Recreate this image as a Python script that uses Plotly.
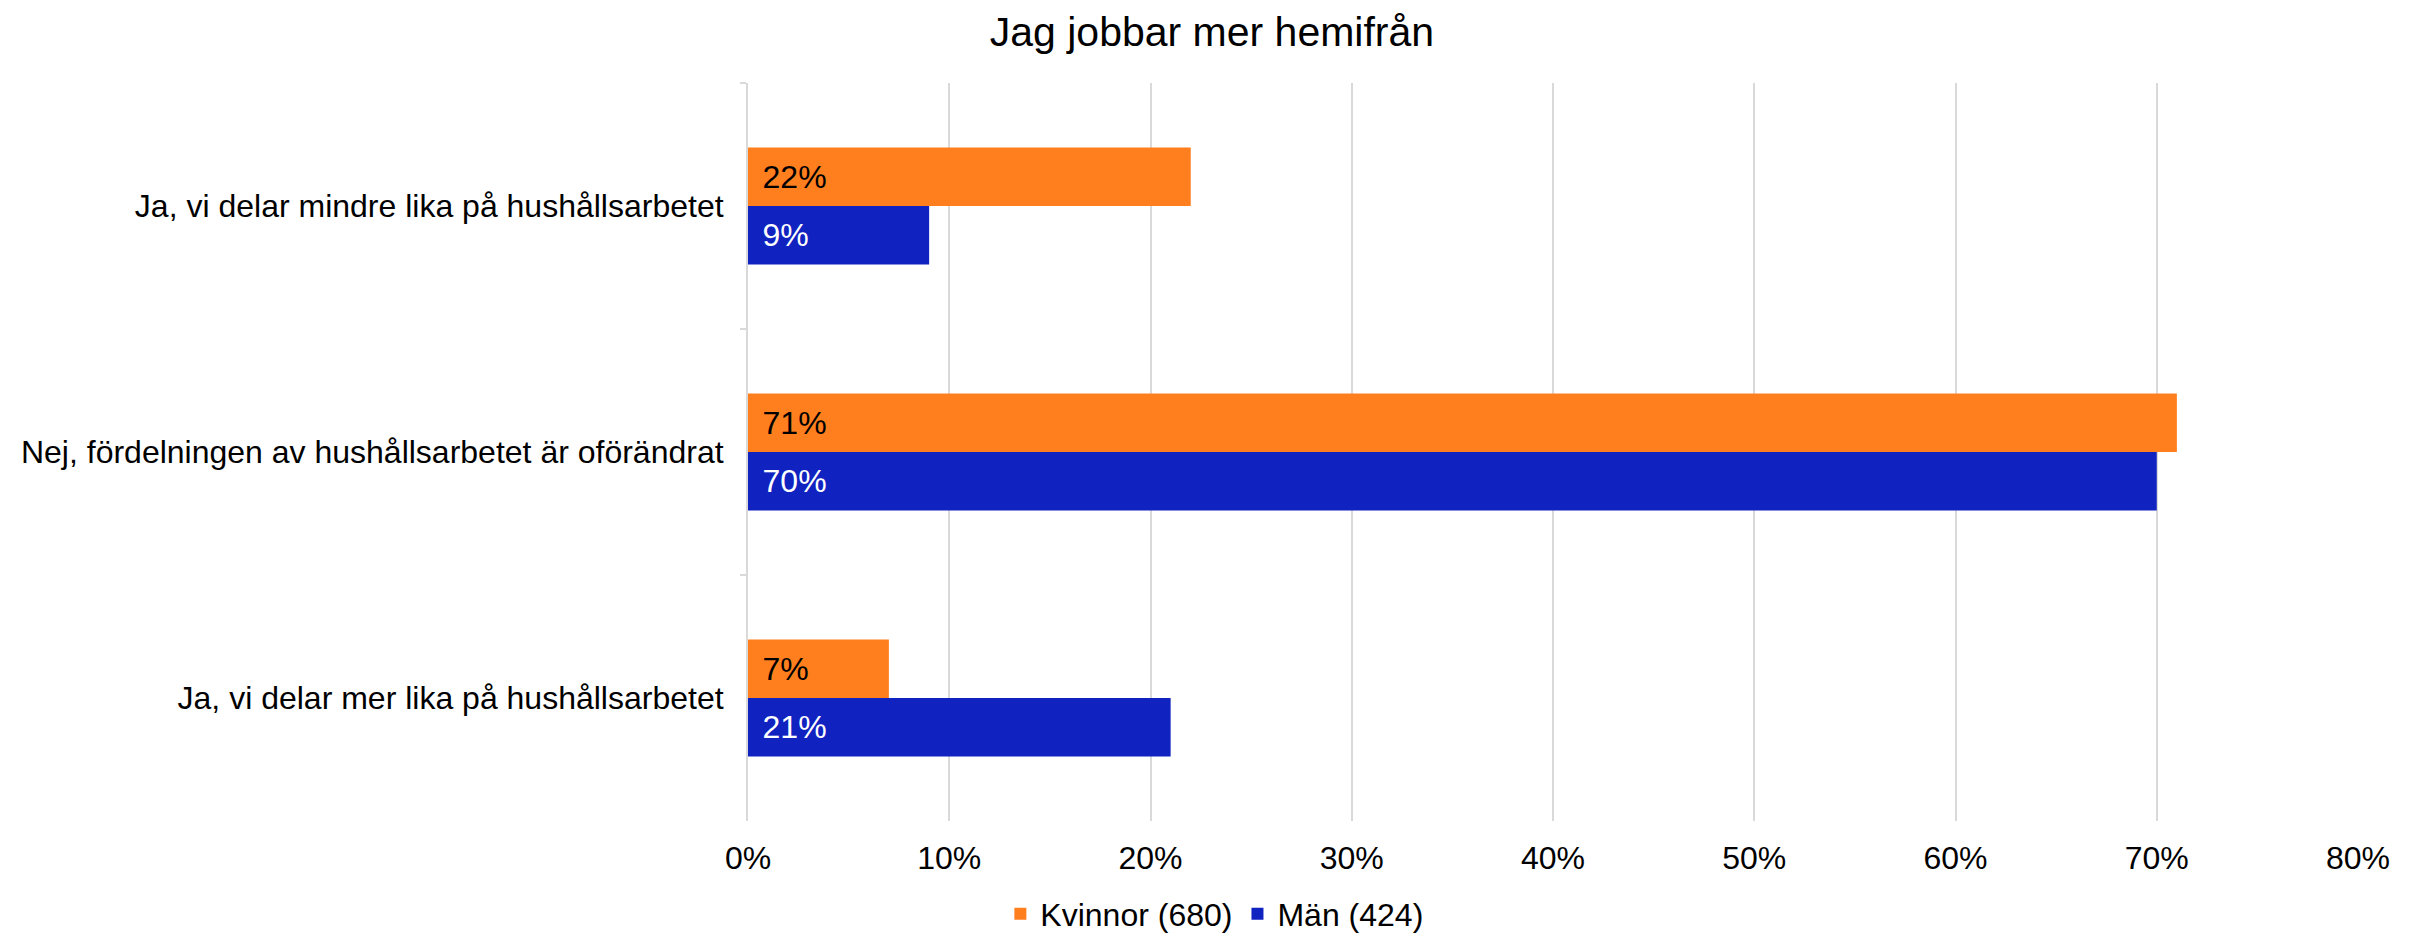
import plotly.graph_objects as go

categories = [
    "Ja, vi delar mindre lika på hushållsarbetet",
    "Nej, fördelningen av hushållsarbetet är oförändrat",
    "Ja, vi delar mer lika på hushållsarbetet",
]
kvinnor = [0.22, 0.71, 0.07]
man = [0.09, 0.70, 0.21]
series_names = ["Kvinnor (680)", "Män (424)"]
tick_vals = [0, 0.1, 0.2, 0.3, 0.4, 0.5, 0.6, 0.7, 0.8]
tick_text = ["0%", "10%", "20%", "30%", "40%", "50%", "60%", "70%", "80%"]
title_text = "Jag jobbar mer hemifrån"

ORANGE = "#FF7F1F"
BLUE = "#1022C0"
FONT = "Liberation Sans, Arial, sans-serif"
PAD = "\u00a0\u200a"

fig = go.Figure()
fig.add_trace(go.Bar(
    y=categories, x=kvinnor, name=series_names[0], orientation="h",
    marker=dict(color=ORANGE, line=dict(width=0)),
    text=[f"{PAD}{round(v*100)}%" for v in kvinnor],
    textposition="inside", insidetextanchor="start",
    textfont=dict(color="black", size=32, family=FONT),
    constraintext="none",
))
fig.add_trace(go.Bar(
    y=categories, x=man, name=series_names[1], orientation="h",
    marker=dict(color=BLUE, line=dict(width=0)),
    text=[f"{PAD}{round(v*100)}%" for v in man],
    textposition="inside", insidetextanchor="start",
    textfont=dict(color="white", size=32, family=FONT),
    constraintext="none",
))

fig.update_layout(
    width=2420, height=936,
    paper_bgcolor="white", plot_bgcolor="white",
    font=dict(family=FONT, size=32, color="black"),
    barmode="group", bargap=0.525, bargroupgap=0,
    margin=dict(l=740, r=70, t=75, b=123, autoexpand=False),
    title=dict(text=title_text, x=0.4975, xref="container", xanchor="center",
               y=1 - 24 / 936, yref="container", yanchor="middle",
               font=dict(size=41, family=FONT, color="black")),
    legend=dict(orientation="h", xref="container", x=0.4985, xanchor="center",
                yref="container", y=30 / 936, yanchor="middle",
                font=dict(size=32, family=FONT), traceorder="normal",
                itemwidth=30),
    showlegend=True,
)
fig.update_xaxes(
    range=[0, 0.8], tickvals=tick_vals, ticktext=tick_text,
    showgrid=True, gridcolor="#D9D9D9", gridwidth=2,
    zeroline=False, showline=False, ticks="", ticklabelstandoff=15,
    tickfont=dict(size=32, family=FONT),
)
fig.update_yaxes(
    categoryorder="array", categoryarray=categories, autorange="reversed",
    showline=True, linecolor="#D9D9D9", linewidth=2,
    ticks="outside", tickson="boundaries", ticklen=6, tickcolor="#D9D9D9", tickwidth=2,
    showgrid=False, ticklabelstandoff=16,
    tickfont=dict(size=32, family=FONT),
)

fig.write_html("out.html")
